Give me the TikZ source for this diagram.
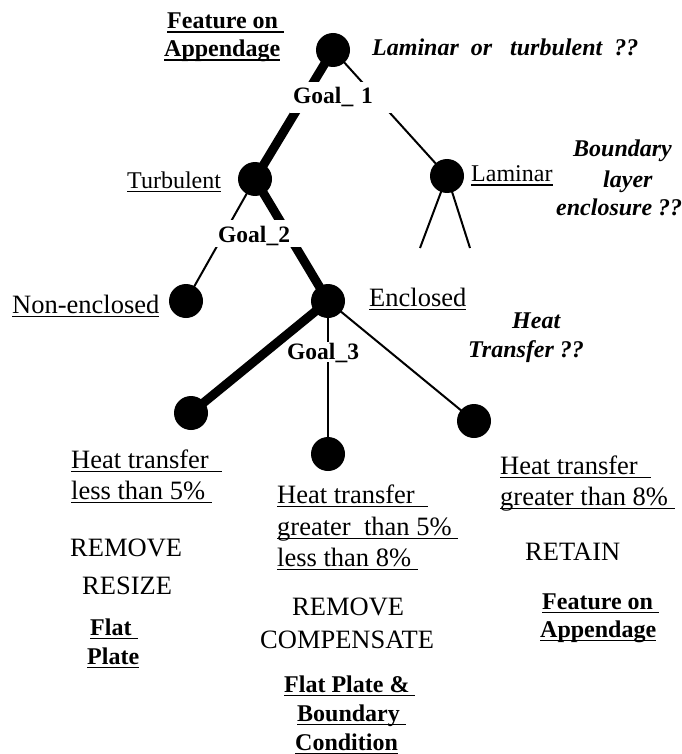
\documentclass[tikz,border=0pt]{standalone}
\usepackage{fontspec}
\setmainfont{Liberation Serif}
\pgfdeclarelayer{lines}
\pgfsetlayers{lines,main}
\newsavebox\ulbox
\newcommand\ulx[1]{\sbox\ulbox{#1}\rlap{\rule[-4pt]{\wd\ulbox}{1.5pt}}\usebox\ulbox}
\tikzset{
  dot/.style={circle, fill=black, minimum size=34pt, inner sep=0pt},
  fine/.style={line width=2pt},
  heavy/.style={line width=9pt},
  lbl/.style={inner sep=0pt, anchor=base west},
  reg/.style={lbl, font=\fontsize{26.5}{30}\selectfont},
  regs/.style={lbl, font=\fontsize{24}{28}\selectfont},
  bld/.style={lbl, font=\fontsize{24}{28}\selectfont\bfseries},
  bit/.style={lbl, font=\fontsize{24}{28}\selectfont\bfseries\itshape},
  goal/.style={fill=white, inner ysep=0pt, anchor=base west, align=left,
    font=\fontsize{23.5}{28}\selectfont\bfseries}
}
\begin{document}
\begin{tikzpicture}[x=1pt,y=-1pt]
\useasboundingbox (0,0) rectangle (681,754);
% tree nodes
\node[dot] (root) at (333,50) {};
\node[dot] (turb) at (255,179) {};
\node[dot] (lam) at (447,176) {};
\node[dot] (nonenc) at (186,301) {};
\node[dot] (enc) at (328,301) {};
\node[dot] (c1) at (191,413) {};
\node[dot] (c2) at (328,454) {};
\node[dot] (c3) at (474,421) {};
\coordinate (lamA) at (420,248);
\coordinate (lamB) at (470,248);
% connectors
\begin{pgfonlayer}{lines}
\draw[heavy] (root.center) -- (turb.center);
\draw[fine] (root.center) -- (lam.center);
\draw[fine] (lam.center) -- (lamA);
\draw[fine] (lam.center) -- (lamB);
\draw[fine] (turb.center) -- (nonenc.center);
\draw[heavy] (turb.center) -- (enc.center);
\draw[heavy] (enc.center) -- (c1.center);
\draw[fine] (enc.center) -- (c2.center);
\draw[fine] (enc.center) -- (c3.center);
\end{pgfonlayer}
% goal labels
\node[goal, inner xsep=3pt, text height=22pt, text depth=9pt, text width=98pt] (g1) at (290,104) {Goal\_ 1};
\node[goal, inner xsep=6pt, text height=22pt, text depth=5pt, text width=81pt] (g2) at (212,242) {Goal\_2};
\node[goal, inner xsep=2pt, text height=17pt, text depth=3pt, text width=83pt] (g3) at (285,359) {Goal\_3};
% top texts
\node[bld] (fa1) at (167,29) {\ulx{Feature on\ }};
\node[bld] (fa2) at (164,57) {\ulx{Appendage}};
\node[bit] (q1) at (372,56) {Laminar\ \ or\ \ \ turbulent\ \ ??};
\node[regs] (tturb) at (127,188) {\ulx{Turbulent}};
\node[regs] (tlam) at (471,182) {\ulx{Laminar}};
\node[bit] (q2a) at (573,157) {Boundary};
\node[bit] (q2b) at (603,187) {layer};
\node[bit] (q2c) at (556,215) {enclosure ??};
\node[reg] (tnon) at (12,313) {\ulx{Non-enclosed}};
\node[reg] (tenc) at (369,306) {\ulx{Enclosed}};
\node[bit] (q3a) at (512,328) {Heat};
\node[bit] (q3b) at (468,357) {Transfer ??};
% left column
\node[reg] (l1) at (71,468) {\ulx{Heat transfer\ \ }};
\node[reg] (l2) at (71,499) {\ulx{less than 5\%\ }};
\node[reg] (l3) at (70,556) {REMOVE};
\node[reg] (l4) at (82,594) {RESIZE};
\node[bld] (l5) at (90,635) {\ulx{Flat\ }};
\node[bld] (l6) at (87,664) {\ulx{Plate}};
% middle column
\node[reg] (m1) at (277,503) {\ulx{Heat transfer\ \ }};
\node[reg] (m2) at (277,535) {\ulx{greater\ \ than 5\%\ }};
\node[reg] (m3) at (277,566) {\ulx{less than 8\%\ }};
\node[reg] (m4) at (292,615) {REMOVE};
\node[reg] (m5) at (260,648) {COMPENSATE};
\node[bld] (m6) at (284,692) {\ulx{Flat Plate \&\ }};
\node[bld] (m7) at (297,721) {\ulx{Boundary\ }};
\node[bld] (m8) at (295,750) {\ulx{Condition}};
% right column
\node[reg] (r1) at (500,474) {\ulx{Heat transfer\ \ }};
\node[reg] (r2) at (500,505) {\ulx{greater than 8\%\ }};
\node[reg] (r3) at (525,560) {RETAIN};
\node[bld] (r4) at (542,609) {\ulx{Feature on\ }};
\node[bld] (r5) at (540,637) {\ulx{Appendage}};
\end{tikzpicture}
\end{document}
